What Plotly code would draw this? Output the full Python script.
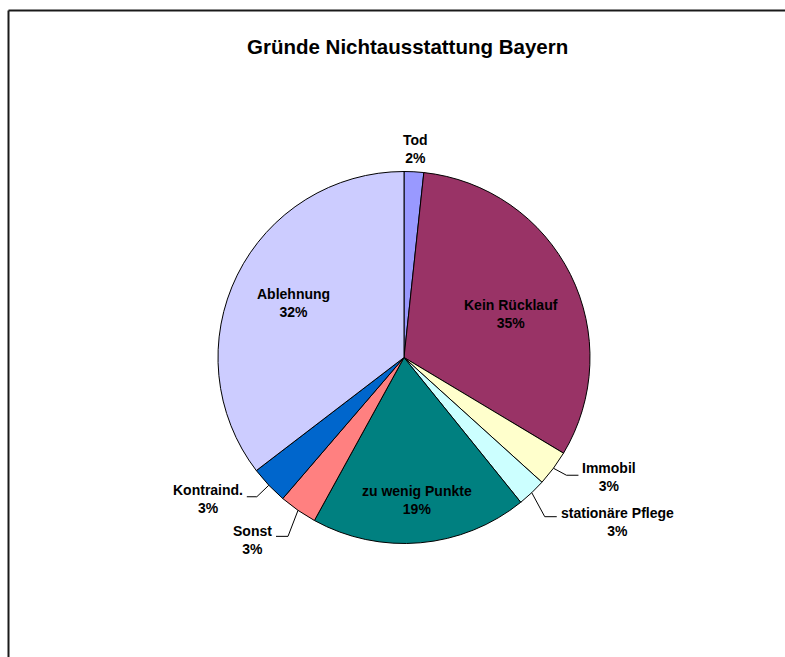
import math
import plotly.graph_objects as go

# ---- data ----
categories = ["Tod", "Kein Rücklauf", "Immobil", "stationäre Pflege",
              "zu wenig Punkte", "Sonst", "Kontraind.", "Ablehnung"]
shares = [1.7, 31.9, 3.1, 2.5, 18.8, 3.3, 3.3, 35.4]
pct_labels = ["2%", "35%", "3%", "3%", "19%", "3%", "3%", "32%"]
title_text = "Gründe Nichtausstattung Bayern"

# ---- styles ----
colors = ["#9999FF", "#993366", "#FFFFCC", "#CCFFFF",
          "#008080", "#FF8080", "#0066CC", "#CCCCFF"]
W, H = 785, 657
CX, CY, R = 404, 357.5, 186          # pie centre / radius in px
FONT = "Liberation Sans, Arial, sans-serif"
FS = 14

# label placement style per slice
# ("in"/"out", radius factor, angle offset deg) / ("lead", elbow dx, elbow dy, seg len, text yshift)
label_style = [
    ("out", 1.12, 0),
    ("in", 0.62, 4.4),
    ("lead", 13, 7, 12, 2),
    ("lead", 13, 24, 12, 5),
    ("in", 0.77, 0),
    ("lead", -10, 26, -12, 4),
    ("lead", -12, 11.5, -10, 2),
    ("in", 0.66, 0),
]

def px(x):
    return x / W

def py(y):
    return 1 - y / H

fig = go.Figure(go.Pie(
    labels=categories, values=shares, sort=False, direction="clockwise", rotation=0,
    textinfo="none", hoverinfo="label+percent",
    marker=dict(colors=colors, line=dict(color="black", width=1)),
    domain=dict(x=[px(CX - R), px(CX + R)], y=[py(CY + R), py(CY - R)]),
    showlegend=False,
))

annotations = []
shapes = []
total = sum(shares)
cum = 0.0
for cat, val, pct, st in zip(categories, shares, pct_labels, label_style):
    mid = (cum + val / 2) / total * 2 * math.pi
    cum += val
    text = f"{cat}<br>{pct}"
    if st[0] in ("in", "out"):
        _, f, off = st
        a = mid + math.radians(off)
        sx, sy = math.sin(a), -math.cos(a)
        annotations.append(dict(
            x=px(CX + R * f * sx), y=py(CY + R * f * sy), xref="paper", yref="paper",
            text=text, showarrow=False, align="center", xanchor="center", yanchor="middle",
            font=dict(family=FONT, size=FS, color="black", weight="bold")))
    else:
        _, edx, edy, seg, ysh = st
        sx, sy = math.sin(mid), -math.cos(mid)
        rx, ry = CX + R * sx, CY + R * sy
        ex, ey = rx + edx, ry + edy
        tx = ex + seg
        shapes.append(dict(type="path", xref="paper", yref="paper",
                           path=f"M {px(rx)},{py(ry)} L {px(ex)},{py(ey)} L {px(tx)},{py(ey)}",
                           line=dict(color="black", width=1)))
        annotations.append(dict(
            x=px(tx + (2 if seg > 0 else -2)), y=py(ey + ysh), xref="paper", yref="paper",
            text=text, showarrow=False, align="center",
            xanchor="left" if seg > 0 else "right", yanchor="middle",
            font=dict(family=FONT, size=FS, color="black", weight="bold")))

annotations.append(dict(
    x=px(407), y=py(46), xref="paper", yref="paper", text=title_text,
    showarrow=False, xanchor="center", yanchor="middle",
    font=dict(family=FONT, size=20.5, color="black", weight="bold")))

# outer chart-area frame (only left and top edges visible in the crop)
shapes.append(dict(type="line", xref="paper", yref="paper",
                   x0=px(8.5), y0=py(10.5), x1=1.0, y1=py(10.5),
                   line=dict(color="#1a1a1a", width=2)))
shapes.append(dict(type="line", xref="paper", yref="paper",
                   x0=px(8.5), y0=0.0, x1=px(8.5), y1=py(10.5),
                   line=dict(color="#1a1a1a", width=2)))

fig.update_layout(
    width=W, height=H, margin=dict(l=0, r=0, t=0, b=0),
    paper_bgcolor="white", plot_bgcolor="white",
    annotations=annotations, shapes=shapes,
)

fig.write_html(
    "out.html",
    config={"displayModeBar": False},
    post_script=(
        "document.documentElement.style.overflow='hidden';"
        "document.body.style.overflow='hidden';"
        "document.body.style.margin='0';"
    ),
)
